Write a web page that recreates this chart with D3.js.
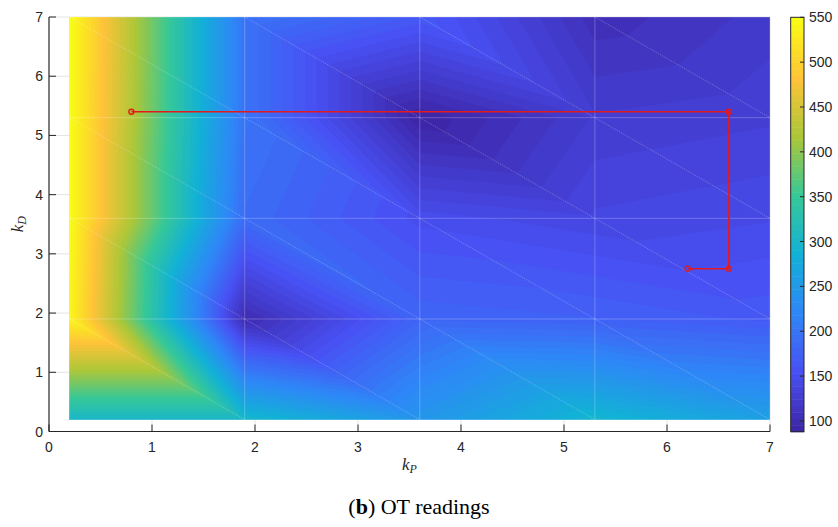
<!DOCTYPE html>
<html><head><meta charset="utf-8">
<script src="https://cdn.jsdelivr.net/npm/d3@7/dist/d3.min.js"></script>
<style>body{margin:0;background:#fff}svg{display:block}</style>
</head><body><svg id="chart" width="838" height="527"></svg>
<script>
// ---- data ----
const kP = [0.2, 1.9, 3.6, 5.3, 7.0];
const kD = [0.2, 1.9, 3.6, 5.3, 7.0];
// OT readings at each (kD row, kP column)
const otRow02 = [300, 300, 245, 295, 260];
const otRow19 = [540, 100, 180, 175, 165];
const otRow36 = [548, 188, 150, 140, 145];
const otRow53 = [548, 198,  88, 125, 130];
const otRow70 = [550, 198, 165, 105, 120];
const otValues = [otRow02, otRow19, otRow36, otRow53, otRow70];
const pathKP = [0.8, 6.6, 6.6, 6.2];
const pathKD = [5.4, 5.4, 2.75, 2.75];
const xTicks = [0, 1, 2, 3, 4, 5, 6, 7];
const yTicks = [0, 1, 2, 3, 4, 5, 6, 7];
const cbTicks = [100, 150, 200, 250, 300, 350, 400, 450, 500, 550];
const parulaStops = ["#3e26a8", "#4852f4", "#2e87f7", "#12b1d6", "#37c897", "#abc739", "#fec338", "#f9fb15"];

// ---- setup ----
const svg = d3.select("#chart");
const x = d3.scaleLinear().domain([0, 7]).range([49, 770]);
const y = d3.scaleLinear().domain([0, 7]).range([431.5, 17]);
const allVals = otValues.flat();
const cmin = d3.min(allVals), cmax = d3.max(allVals);
const nLevels = 64;
const parula = d3.scaleLinear()
  .domain(parulaStops.map((c, i) => i / (parulaStops.length - 1)))
  .range(parulaStops).interpolate(d3.interpolateRgb);
const levelColor = k => parula(k / (nLevels - 1));
const cVal = d3.scaleLinear().domain([cmin, cmax]).range([431.7, 17.3]);

// background grid
const grid = svg.append("g").attr("stroke", "#e3e3e3").attr("stroke-width", 1);
xTicks.slice(1).forEach(t => grid.append("line").attr("x1", x(t)).attr("x2", x(t)).attr("y1", y(0)).attr("y2", y(7)));
yTicks.slice(1).forEach(t => grid.append("line").attr("y1", y(t)).attr("y2", y(t)).attr("x1", x(0)).attr("x2", x(7)));

// ---- surface via triangulated linear interpolation ----
function interp(px, py) {
  let i = d3.bisectRight(kP, px) - 1; i = Math.max(0, Math.min(kP.length - 2, i));
  let j = d3.bisectRight(kD, py) - 1; j = Math.max(0, Math.min(kD.length - 2, j));
  let u = (px - kP[i]) / (kP[i + 1] - kP[i]); u = Math.max(0, Math.min(1, u));
  let w = (py - kD[j]) / (kD[j + 1] - kD[j]); w = Math.max(0, Math.min(1, w));
  const a = otValues[j][i], b = otValues[j][i + 1], d = otValues[j + 1][i], c = otValues[j + 1][i + 1];
  if (u + w <= 1) return a + u * (b - a) + w * (d - a);
  return c + (1 - u) * (d - c) + (1 - w) * (b - c);
}
const nx = 352, ny = 206;
const x0 = kP[0], x1 = kP[kP.length - 1], y0 = kD[0], y1 = kD[kD.length - 1];
const sx = (x1 - x0) / (nx - 1), sy = (y1 - y0) / (ny - 1);
const N = nx + 2, M = ny + 2;
const vals = new Float64Array(N * M);
for (let jj = 0; jj < M; jj++) for (let ii = 0; ii < N; ii++) {
  vals[jj * N + ii] = interp(x0 + (ii - 1) * sx, y0 + (jj - 1) * sy);
}
const levels = d3.range(nLevels).map(k => k === 0 ? cmin - 1000 : cmin + k * (cmax - cmin) / nLevels);
const contours = d3.contours().size([N, M]).thresholds(levels)(vals);
const proj = d3.geoTransform({
  point(gx, gy) { this.stream.point(x(x0 + (gx - 1.5) * sx), y(y0 + (gy - 1.5) * sy)); }
});
const geo = d3.geoPath(proj);
svg.append("clipPath").attr("id", "surfClip").append("rect")
  .attr("x", x(x0)).attr("y", y(y1)).attr("width", x(x1) - x(x0)).attr("height", y(y0) - y(y1));
svg.append("g").attr("clip-path", "url(#surfClip)")
  .selectAll("path").data(contours).join("path")
  .attr("d", geo).attr("fill", (d, k) => levelColor(k)).attr("stroke", "none");

// mesh edges
const mesh = svg.append("g").attr("stroke", "#fff").attr("stroke-opacity", 0.3).attr("stroke-width", 0.8).attr("fill", "none");
kP.forEach(v => mesh.append("line").attr("x1", x(v)).attr("x2", x(v)).attr("y1", y(y0)).attr("y2", y(y1)));
kD.forEach(v => mesh.append("line").attr("y1", y(v)).attr("y2", y(v)).attr("x1", x(x0)).attr("x2", x(x1)));
for (let i = 0; i < kP.length - 1; i++) for (let j = 0; j < kD.length - 1; j++) {
  mesh.append("line").attr("x1", x(kP[i])).attr("y1", y(kD[j + 1])).attr("x2", x(kP[i + 1])).attr("y2", y(kD[j]))
    .attr("stroke-dasharray", "1.5,1");
}

// ---- axes ----
const axCol = "#262626";
const ax = svg.append("g").attr("font-family", "'Liberation Sans', Arial, sans-serif").attr("font-size", 14).attr("fill", axCol);
ax.append("line").attr("x1", x(0)).attr("x2", x(7)).attr("y1", y(0)).attr("y2", y(0)).attr("stroke", axCol).attr("stroke-width", 1.2);
ax.append("line").attr("x1", x(0)).attr("x2", x(0)).attr("y1", y(0)).attr("y2", y(7)).attr("stroke", axCol).attr("stroke-width", 1.2);
xTicks.forEach(t => {
  ax.append("line").attr("x1", x(t)).attr("x2", x(t)).attr("y1", y(0)).attr("y2", y(0) - 7).attr("stroke", axCol);
  ax.append("text").attr("x", x(t)).attr("y", 452).attr("text-anchor", "middle").text(t);
});
yTicks.forEach(t => {
  ax.append("line").attr("x1", x(0)).attr("x2", x(0) + 7).attr("y1", y(t)).attr("y2", y(t)).attr("stroke", axCol);
  ax.append("text").attr("x", 43).attr("y", y(t)).attr("dy", "0.36em").attr("text-anchor", "end").text(t);
});

// axis labels (math italic)
const lab = svg.append("g").attr("font-family", "'Liberation Serif', 'DejaVu Serif', serif").attr("font-style", "italic").attr("fill", axCol);
const xl = lab.append("text").attr("x", x(3.5)).attr("y", 470).attr("text-anchor", "middle").attr("font-size", 17);
xl.append("tspan").text("k");
xl.append("tspan").attr("font-size", 12).attr("dy", 3).text("P");
const yl = lab.append("text").attr("transform", `translate(23,${y(3.5)}) rotate(-90)`).attr("text-anchor", "middle").attr("font-size", 17);
yl.append("tspan").text("k");
yl.append("tspan").attr("font-size", 12).attr("dy", 3).text("D");

// ---- optimisation path ----
const pts = pathKP.map((v, i) => [v, pathKD[i]]);
svg.append("path").datum(pts)
  .attr("d", d3.line().x(d => x(d[0])).y(d => y(d[1])))
  .attr("fill", "none").attr("stroke", "#e31a1c").attr("stroke-width", 1.5);
svg.append("g").selectAll("circle").data(pts).join("circle")
  .attr("cx", d => x(d[0])).attr("cy", d => y(d[1])).attr("r", 2.5)
  .attr("fill", "none").attr("stroke", "#e31a1c").attr("stroke-width", 1.4);

// ---- colorbar ----
const cbX = 790.7, cbW = 13.3;
const cb = svg.append("g");
d3.range(nLevels).forEach(k => {
  const lo = cmin + k * (cmax - cmin) / nLevels, hi = cmin + (k + 1) * (cmax - cmin) / nLevels;
  cb.append("rect").attr("x", cbX).attr("width", cbW).attr("y", cVal(hi)).attr("height", cVal(lo) - cVal(hi) + 0.5)
    .attr("fill", levelColor(k));
});
cb.append("rect").attr("x", cbX).attr("y", cVal(cmax)).attr("width", cbW).attr("height", cVal(cmin) - cVal(cmax))
  .attr("fill", "none").attr("stroke", axCol).attr("stroke-width", 1);
const cbt = svg.append("g").attr("font-family", "'Liberation Sans', Arial, sans-serif").attr("font-size", 14).attr("fill", axCol);
cbTicks.forEach(t => {
  cbt.append("line").attr("x1", cbX + cbW).attr("x2", cbX + cbW - 4).attr("y1", cVal(t)).attr("y2", cVal(t)).attr("stroke", axCol);
  cbt.append("text").attr("x", 809).attr("y", cVal(t)).attr("dy", "0.36em").text(t);
});

// ---- caption ----
const cap = svg.append("text").attr("x", 419).attr("y", 514).attr("text-anchor", "middle")
  .attr("font-family", "'Liberation Serif', 'DejaVu Serif', serif").attr("font-size", 22).attr("fill", "#000");
cap.append("tspan").text("(");
cap.append("tspan").attr("font-weight", "bold").text("b");
cap.append("tspan").text(") OT readings");
</script></body></html>
